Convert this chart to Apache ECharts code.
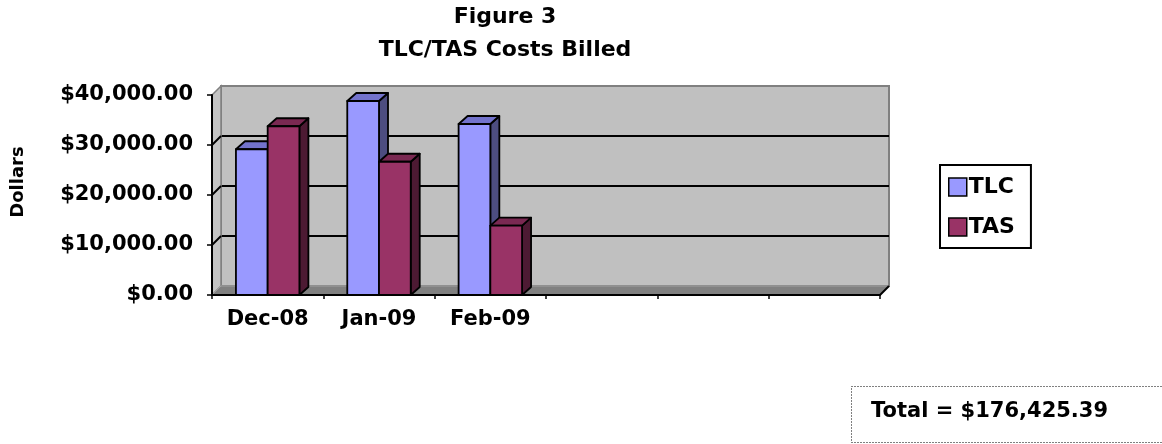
<!DOCTYPE html>
<html>
<head>
<meta charset="utf-8">
<title>TLC/TAS Costs Billed</title>
<script src="https://cdn.jsdelivr.net/npm/echarts@6/dist/echarts.min.js"></script>
<style>
  html, body { margin: 0; padding: 0; background: #ffffff; }
  #chart { width: 1162px; height: 444px; }
</style>
</head>
<body>
<div id="chart"></div>
<script>
// Monthly billing, in dollars
const categories = ['Dec-08', 'Jan-09', 'Feb-09', '', '', ''];
const seriesNames = ['TLC', 'TAS'];
const tlcValues = [29150, 38800, 34200];
const tasValues = [33750, 26650, 13875.39];
const valueTicks = [0, 10000, 20000, 30000, 40000];

const FONT = 'DejaVu Sans';
const TEXT_SIZE = 21;
const TITLE_SIZE = 22;

// Front plane of the plot box and the depth offset of the back wall
const FRONT = { left: 212, top: 95, width: 668, height: 200 };
const DEPTH = { dx: 9, dy: -9 };
const BAR_DEPTH = { dx: 9, dy: -8 };
const BAR_RATIO = 0.285;

const palettes = [
  { front: '#9999ff', top: '#7373cc', side: '#4d4d80' },
  { front: '#993366', top: '#7a2952', side: '#4d1a33' }
];

function money(v) {
  const parts = v.toFixed(2).split('.');
  return '$' + parts[0].replace(/\B(?=(\d{3})+(?!\d))/g, ',') + '.' + parts[1];
}

function barRenderer(slot) {
  return function (params, api) {
    const cat = api.value(0);
    const val = api.value(1);
    const topPt = api.coord([cat, val]);
    const basePt = api.coord([cat, 0]);
    const band = api.size([1, 0])[0];
    const w = band * BAR_RATIO;
    const x0 = topPt[0] - w + slot * w;
    const x1 = x0 + w;
    const y0 = topPt[1];
    const y1 = basePt[1];
    const dx = BAR_DEPTH.dx, dy = BAR_DEPTH.dy;
    const c = palettes[slot];
    const edge = { stroke: '#000', lineWidth: 1.8, lineJoin: 'round' };
    return {
      type: 'group',
      children: [
        { type: 'polygon', shape: { points: [[x1, y0], [x1 + dx, y0 + dy], [x1 + dx, y1 + dy], [x1, y1]] },
          style: Object.assign({ fill: c.side }, edge) },
        { type: 'polygon', shape: { points: [[x0, y0], [x0 + dx, y0 + dy], [x1 + dx, y0 + dy], [x1, y0]] },
          style: Object.assign({ fill: c.top }, edge) },
        { type: 'rect', shape: { x: x0, y: y0, width: w, height: y1 - y0 },
          style: Object.assign({ fill: c.front }, edge) }
      ]
    };
  };
}

const yMin = valueTicks[0];
const yMax = valueTicks[valueTicks.length - 1];
const yStep = valueTicks[1] - valueTicks[0];

const allValues = tlcValues.concat(tasValues);
const total = allValues.reduce((a, b) => a + b, 0);

const chart = echarts.init(document.getElementById('chart'), null, { renderer: 'canvas' });

const option = {
  animation: false,
  backgroundColor: '#ffffff',
  textStyle: { fontFamily: FONT },
  grid: [
    { // back wall
      left: FRONT.left + DEPTH.dx, top: FRONT.top + DEPTH.dy,
      width: FRONT.width, height: FRONT.height,
      show: true, backgroundColor: '#c0c0c0', borderColor: '#808080', borderWidth: 2
    },
    { // front plane
      left: FRONT.left, top: FRONT.top, width: FRONT.width, height: FRONT.height,
      show: false
    }
  ],
  xAxis: [
    { gridIndex: 0, type: 'category', data: categories, show: false },
    {
      gridIndex: 1, type: 'category', data: categories, z: 3,
      axisLine: { lineStyle: { color: '#000', width: 2 } },
      axisTick: { show: true, length: 4, lineStyle: { color: '#000', width: 1.5 } },
      axisLabel: { margin: 14, color: '#000', fontFamily: FONT, fontWeight: 'bold', fontSize: TEXT_SIZE },
      splitLine: { show: false }
    }
  ],
  yAxis: [
    {
      gridIndex: 0, type: 'value', min: yMin, max: yMax, interval: yStep,
      axisLine: { show: false }, axisTick: { show: false }, axisLabel: { show: false },
      splitLine: { show: true, lineStyle: { color: ['#808080', '#000', '#000', '#000', '#808080'], width: 2 } }
    },
    {
      gridIndex: 1, type: 'value', min: yMin, max: yMax, interval: yStep, z: 3,
      axisLine: { show: true, lineStyle: { color: '#000', width: 2 } },
      axisTick: { show: true, length: 5, lineStyle: { color: '#000', width: 1.5 } },
      axisLabel: {
        margin: 19, color: '#000', fontFamily: FONT, fontWeight: 'bold', fontSize: TEXT_SIZE,
        formatter: (v) => money(v)
      },
      splitLine: { show: false }
    }
  ],
  legend: {
    orient: 'vertical',
    left: 940, top: 165,
    data: seriesNames,
    icon: 'rect',
    itemWidth: 18, itemHeight: 18, itemGap: 18,
    padding: [11, 16, 10, 8],
    borderColor: '#000', borderWidth: 2,
    backgroundColor: '#ffffff',
    itemStyle: { borderColor: '#000', borderWidth: 1.5 },
    textStyle: { color: '#000', fontFamily: FONT, fontWeight: 'bold', fontSize: TITLE_SIZE, lineHeight: 22,
                 padding: [0, 0, 0, -3] }
  },
  series: [
    {
      name: seriesNames[0], type: 'custom', xAxisIndex: 1, yAxisIndex: 1, z: 2,
      itemStyle: { color: palettes[0].front },
      renderItem: barRenderer(0),
      data: tlcValues.map((v, i) => [i, v])
    },
    {
      name: seriesNames[1], type: 'custom', xAxisIndex: 1, yAxisIndex: 1, z: 2,
      itemStyle: { color: palettes[1].front },
      renderItem: barRenderer(1),
      data: tasValues.map((v, i) => [i, v])
    }
  ]
};

chart.setOption(option);

// Side wall, floor, titles and the total box
const fx0 = FRONT.left, fx1 = FRONT.left + FRONT.width;
const fyBase = chart.convertToPixel({ yAxisIndex: 1 }, 0);
const fyTop = chart.convertToPixel({ yAxisIndex: 1 }, yMax);
const dx = DEPTH.dx, dy = DEPTH.dy;

const graphics = [
  { type: 'polygon', z: 1, shape: { points: [[fx0, fyTop], [fx0 + dx, fyTop + dy], [fx0 + dx, fyBase + dy], [fx0, fyBase]] },
    style: { fill: '#c4c4c4', stroke: '#808080', lineWidth: 1.5 } },
  { type: 'polygon', z: 1, shape: { points: [[fx0, fyBase], [fx0 + dx, fyBase + dy], [fx1 + dx, fyBase + dy], [fx1, fyBase]] },
    style: { fill: '#808080', stroke: '#a0a0a0', lineWidth: 1 } },
  { type: 'line', z: 1, shape: { x1: fx1, y1: fyBase, x2: fx1 + dx, y2: fyBase + dy },
    style: { stroke: '#000', lineWidth: 2 } }
];
valueTicks.slice(1, -1).forEach((v) => {
  const y = chart.convertToPixel({ yAxisIndex: 1 }, v);
  graphics.push({ type: 'line', z: 1, shape: { x1: fx0, y1: y, x2: fx0 + dx, y2: y + dy },
    style: { stroke: '#000', lineWidth: 2 } });
});

graphics.push(
  { type: 'text', x: 505, y: 6, z: 5,
    style: { text: 'Figure 3', textAlign: 'center', textVerticalAlign: 'top',
             font: 'bold ' + TITLE_SIZE + 'px "' + FONT + '"', fill: '#000' } },
  { type: 'text', x: 505, y: 39, z: 5,
    style: { text: 'TLC/TAS Costs Billed', textAlign: 'center', textVerticalAlign: 'top',
             font: 'bold ' + TITLE_SIZE + 'px "' + FONT + '"', fill: '#000' } },
  { type: 'text', x: 18, y: 182, rotation: Math.PI / 2, z: 5,
    style: { text: 'Dollars', textAlign: 'center', textVerticalAlign: 'middle',
             font: 'bold 18px "' + FONT + '"', fill: '#000' } },
  { type: 'rect', z: 5, shape: { x: 851.5, y: 386.5, width: 340, height: 56 },
    style: { fill: '#ffffff', stroke: '#000', lineWidth: 1, lineDash: [1, 2] } },
  { type: 'text', x: 871, y: 412, z: 6,
    style: { text: 'Total = ' + money(total), textAlign: 'left', textVerticalAlign: 'middle',
             font: 'bold ' + TEXT_SIZE + 'px "' + FONT + '"', fill: '#000' } }
);

chart.setOption({ graphic: graphics });
</script>
</body>
</html>
